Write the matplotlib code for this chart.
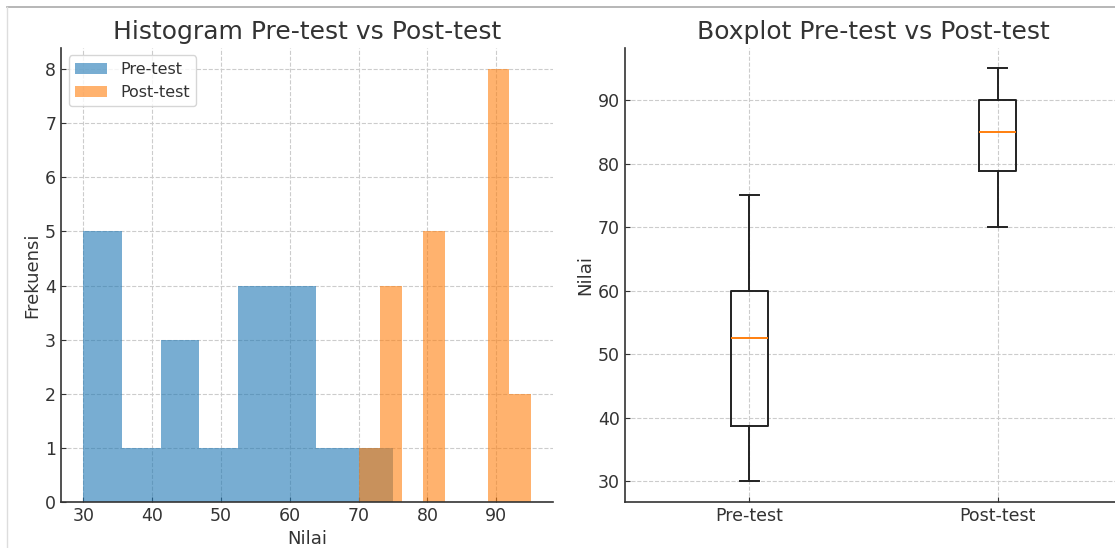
import numpy as np
import matplotlib
matplotlib.use("Agg")
import matplotlib.pyplot as plt
from matplotlib.lines import Line2D

# nilai siswa (20 orang)
pre_test = [30, 30, 30, 35, 35, 40, 45, 45, 45, 50,
            55, 55, 55, 55, 60, 60, 60, 60, 65, 75]
post_test = [70, 75, 75, 75, 75, 80, 80, 80, 80, 80,
             90, 90, 90, 90, 90, 90, 90, 90, 95, 95]
labels = ["Pre-test", "Post-test"]

txt = "#333333"
plt.rcParams.update({
    "font.family": "DejaVu Sans",
    "text.color": txt,
    "axes.labelcolor": txt,
    "axes.edgecolor": "#333333",
    "axes.linewidth": 1.2,
    "xtick.color": txt,
    "ytick.color": txt,
    "xtick.direction": "in",
    "ytick.direction": "in",
    "xtick.labelsize": 12.5,
    "ytick.labelsize": 12.5,
    "axes.spines.top": False,
    "axes.spines.right": False,
})

fig = plt.figure(figsize=(11.15, 5.48), dpi=100)
ax1 = fig.add_axes([0.0547, 0.0839, 0.4413, 0.8294])
ax2 = fig.add_axes([0.5605, 0.0839, 0.4458, 0.8294])

# histogram
ax1.hist(pre_test, bins=8, alpha=0.6, label=labels[0])
ax1.hist(post_test, bins=8, alpha=0.6, label=labels[1])
ax1.set_title("Histogram Pre-test vs Post-test", fontsize=18, color=txt)
ax1.set_xlabel("Nilai", fontsize=13)
ax1.set_ylabel("Frekuensi", fontsize=13, labelpad=3)
ax1.legend(loc="upper left", fontsize=11.5)
ax1.grid(True, linestyle="--", color="#cccccc", linewidth=0.8)
ax1.set_axisbelow(True)

# boxplot
ax2.boxplot([pre_test, post_test],
            boxprops=dict(color="#222222", linewidth=1.4),
            whiskerprops=dict(color="#222222", linewidth=1.4),
            capprops=dict(color="#222222", linewidth=1.4),
            medianprops=dict(color="#ff7f0e", linewidth=1.4))
ax2.set_xticks([1, 2])
ax2.set_xticklabels(labels)
ax2.set_title("Boxplot Pre-test vs Post-test", fontsize=18, color=txt)
ax2.set_ylabel("Nilai", fontsize=13, labelpad=3)
ax2.grid(True, linestyle="--", color="#cccccc", linewidth=0.8)
ax2.set_axisbelow(True)

# garis tepi screenshot
fig.add_artist(Line2D([0.006, 1], [0.987, 0.987], color="#aaaaaa", lw=1.2))
fig.add_artist(Line2D([0.006, 0.006], [0, 0.987], color="#dddddd", lw=1.0))

fig.savefig("out.png", dpi=100)
